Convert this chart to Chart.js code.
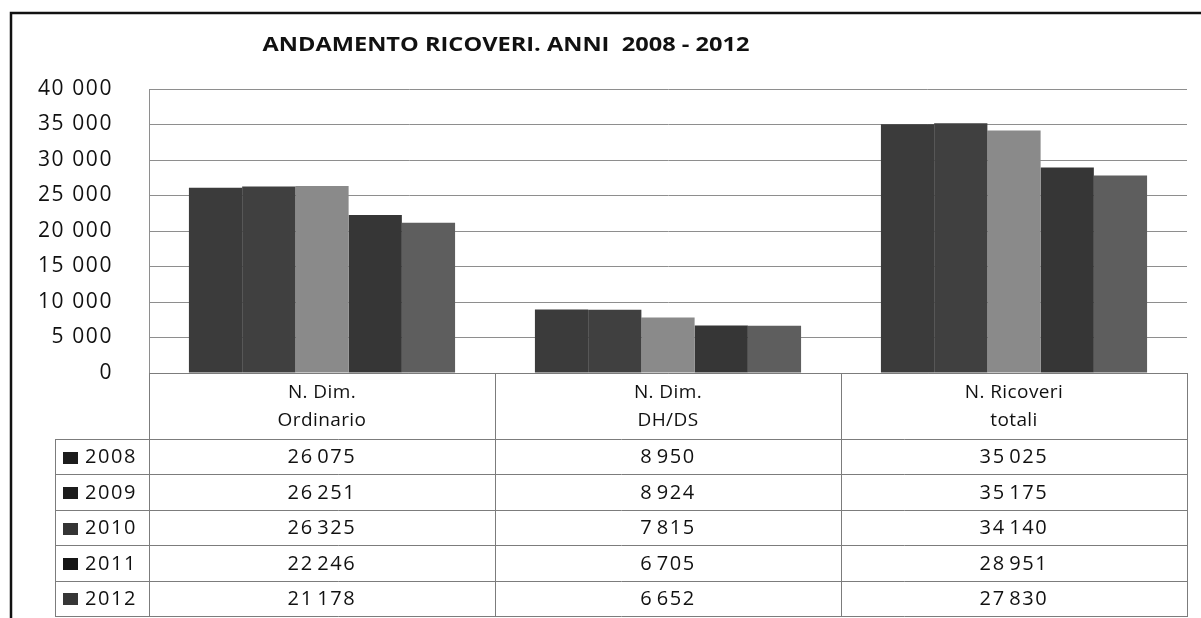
<!DOCTYPE html>
<html>
<head>
<meta charset="utf-8">
<script src="https://cdn.jsdelivr.net/npm/chart.js@4.4.1/dist/chart.umd.min.js"></script>
<style>
  html, body { margin: 0; padding: 0; background: #ffffff; }
  #wrap { width: 1201px; height: 618px; position: relative; }
  canvas { display: block; }
</style>
</head>
<body>
<div id="wrap"><canvas id="c" width="1201" height="618"></canvas></div>
<script>
// ---- data ----
const titleText = 'ANDAMENTO RICOVERI. ANNI  2008 - 2012';
const categories = [['N. Dim.', 'Ordinario'], ['N. Dim.', 'DH/DS'], ['N. Ricoveri', 'totali']];
const years = ['2008', '2009', '2010', '2011', '2012'];
const v2008 = [26075, 8950, 35025];
const v2009 = [26251, 8924, 35175];
const v2010 = [26325, 7815, 34140];
const v2011 = [22246, 6705, 28951];
const v2012 = [21178, 6652, 27830];
const yMin = 0;
const yMax = 40000;
const yStep = 5000;

// ---- styles ----
const seriesValues = [v2008, v2009, v2010, v2011, v2012];
const barColors = ['#3b3b3b', '#404040', '#8a8a8a', '#363636', '#5e5e5e'];
const legendColors = ['#1c1c1c', '#1c1c1c', '#343434', '#151515', '#363636'];
const FONT = '"Open Sans", Lato, sans-serif';

function fmt(n, sep) {
  return String(n).replace(/\B(?=(\d{3})+(?!\d))/g, sep);
}

const tablePlugin = {
  id: 'frameTable',
  beforeDraw(chart) {
    const ctx = chart.ctx;
    ctx.save();
    ctx.fillStyle = '#ffffff';
    ctx.fillRect(0, 0, chart.width, chart.height);
    ctx.restore();
    chart.ctx.letterSpacing = '1.6px';
  },
  afterDraw(chart) {
    const ctx = chart.ctx;
    ctx.letterSpacing = '0px';
    const area = chart.chartArea;
    const xs = chart.scales.x;
    const n = categories.length;
    const cw = (xs.right - xs.left) / n;
    const bounds = [];
    for (let i = 0; i < n; i++) bounds.push(xs.getPixelForValue(i) - cw / 2);
    bounds.push(xs.getPixelForValue(n - 1) + cw / 2);

    const headerTop = area.bottom;
    const headerH = 66;
    const rowH = 35.4;
    const legendLeft = 55;
    const rowsTop = headerTop + headerH;
    const tableBottom = rowsTop + rowH * years.length;

    ctx.save();
    // outer frame (scan border)
    ctx.strokeStyle = '#111111';
    ctx.lineWidth = 2.5;
    ctx.beginPath();
    ctx.moveTo(11, chart.height);
    ctx.lineTo(11, 13);
    ctx.lineTo(chart.width, 13);
    ctx.stroke();

    // title
    ctx.fillStyle = '#111111';
    ctx.font = 'bold 20px ' + FONT;
    ctx.textAlign = 'center';
    ctx.textBaseline = 'middle';
    const tw = ctx.measureText(titleText).width;
    ctx.save();
    ctx.translate(506, 45);
    ctx.scale(487 / tw, 1);
    ctx.fillText(titleText, 0, 0);
    ctx.restore();

    // table lines
    ctx.strokeStyle = '#7c7c7c';
    ctx.lineWidth = 1;
    ctx.beginPath();
    for (let k = 0; k <= years.length; k++) {
      const y = Math.round(rowsTop + k * rowH) + 0.5;
      ctx.moveTo(legendLeft, y);
      ctx.lineTo(bounds[n] + 1, y);
    }
    ctx.moveTo(area.left, Math.round(headerTop) + 0.5);
    ctx.lineTo(bounds[n] + 1, Math.round(headerTop) + 0.5);
    for (let i = 0; i <= n; i++) {
      const x = Math.round(bounds[i]) + 0.5;
      ctx.moveTo(x, headerTop);
      ctx.lineTo(x, tableBottom);
    }
    ctx.moveTo(legendLeft + 0.5, rowsTop);
    ctx.lineTo(legendLeft + 0.5, tableBottom);
    ctx.stroke();

    // header labels
    ctx.fillStyle = '#111111';
    ctx.font = '19px ' + FONT;
    ctx.textAlign = 'center';
    ctx.textBaseline = 'middle';
    ctx.letterSpacing = '0.4px';
    for (let i = 0; i < n; i++) {
      const cx = xs.getPixelForValue(i);
      ctx.fillText(categories[i][0], cx, headerTop + 20);
      ctx.fillText(categories[i][1], cx, headerTop + 48);
    }

    // rows
    ctx.font = '20px ' + FONT;
    ctx.letterSpacing = '1.6px';
    for (let r = 0; r < years.length; r++) {
      const cy = rowsTop + r * rowH + rowH / 2 + 1;
      ctx.fillStyle = legendColors[r];
      ctx.fillRect(63, Math.round(cy - 6), 15, 12);
      ctx.fillStyle = '#111111';
      ctx.textAlign = 'left';
      ctx.fillText(years[r], 85, cy);
      ctx.textAlign = 'center';
      for (let i = 0; i < n; i++) {
        ctx.fillText(fmt(seriesValues[r][i], '\u200A'), xs.getPixelForValue(i), cy);
      }
    }
    ctx.letterSpacing = '0px';
    ctx.restore();
  }
};

new Chart(document.getElementById('c'), {
  type: 'bar',
  data: {
    labels: categories,
    datasets: years.map((y, i) => ({
      label: y,
      data: seriesValues[i],
      backgroundColor: barColors[i],
      borderWidth: 0,
      categoryPercentage: 5 / 6.5,
      barPercentage: 1.0
    }))
  },
  options: {
    responsive: false,
    animation: false,
    devicePixelRatio: 1,
    layout: { padding: { top: 89, right: 14, bottom: 245, left: 0 } },
    plugins: {
      legend: { display: false },
      title: { display: false },
      tooltip: { enabled: false }
    },
    scales: {
      x: { display: false },
      y: {
        min: yMin,
        max: yMax,
        afterFit(scale) { scale.width = 149; },
        ticks: {
          stepSize: yStep,
          padding: 36,
          color: '#111111',
          font: { family: FONT, size: 21 },
          callback: (v) => fmt(v, ' ')
        },
        grid: { color: '#8e8e8e', lineWidth: 1, drawTicks: false },
        border: { display: true, color: '#8e8e8e' }
      }
    }
  },
  plugins: [tablePlugin]
});
</script>
</body>
</html>
